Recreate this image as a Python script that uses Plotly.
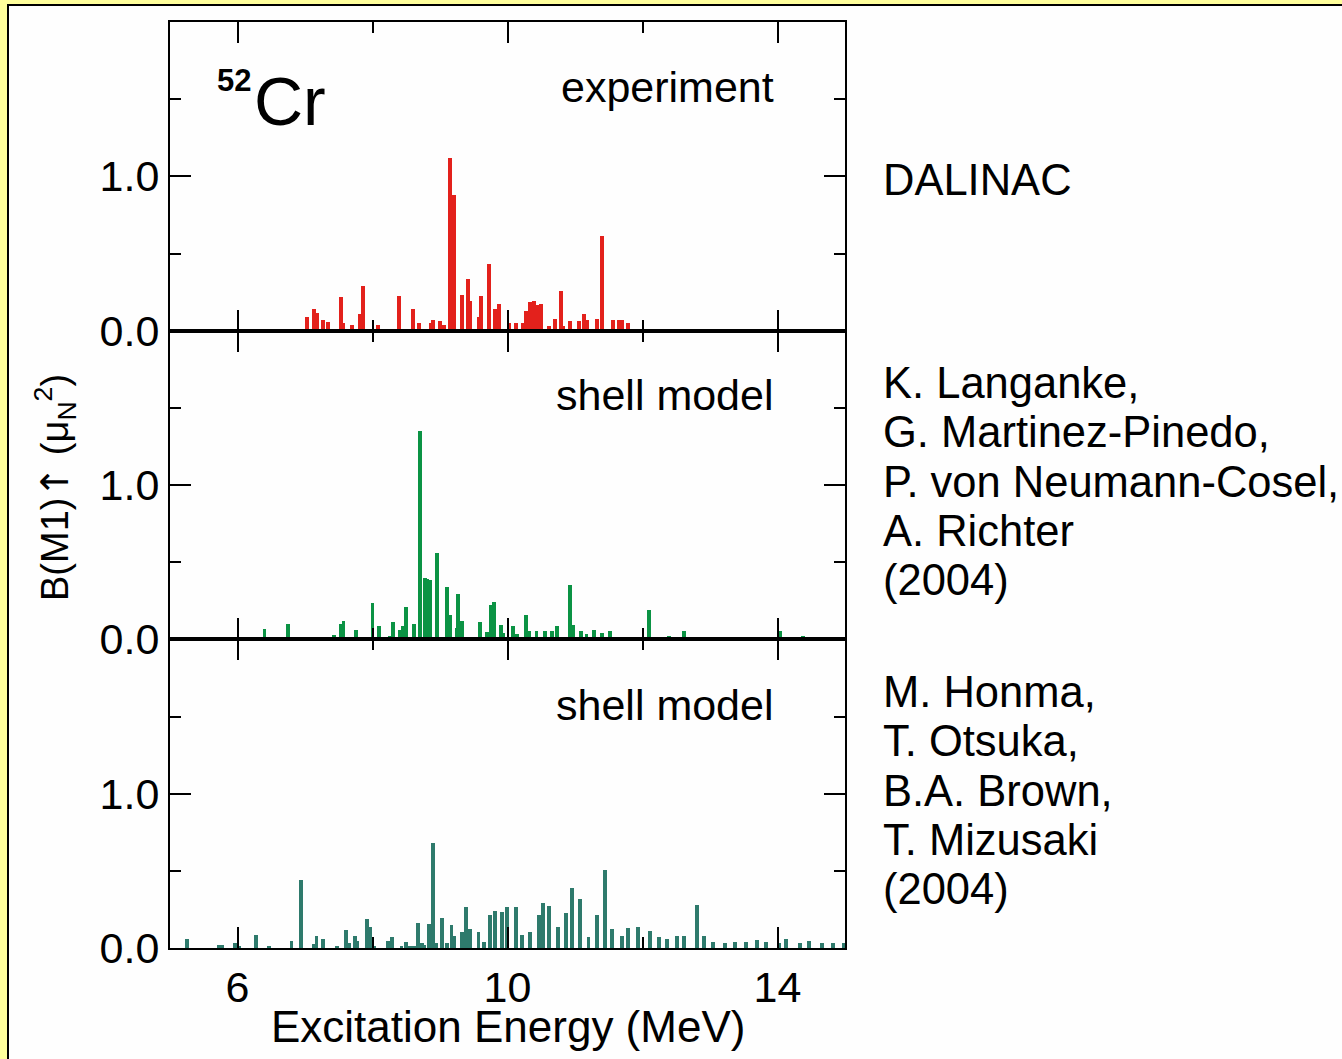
import plotly.graph_objects as go
from plotly.subplots import make_subplots

# ---- data (MeV, B(M1) in mu_N^2) ----
exp_E = [7.03, 7.14, 7.18, 7.26, 7.34, 7.53, 7.57, 7.70, 7.81, 7.86, 8.08, 8.39, 8.60, 8.69,
         8.86, 8.90, 9.00, 9.06, 9.15, 9.21, 9.32, 9.42, 9.45, 9.57, 9.61, 9.72, 9.82, 9.88,
         10.03, 10.13, 10.23, 10.27, 10.34, 10.39, 10.44, 10.50, 10.61, 10.71, 10.79, 10.83,
         10.92, 11.06, 11.13, 11.18, 11.33, 11.40, 11.56, 11.65, 11.70, 11.78]
exp_B = [0.089, 0.14, 0.115, 0.071, 0.054, 0.216, 0.05, 0.037, 0.108, 0.292, 0.039, 0.227, 0.138, 0.05,
         0.05, 0.071, 0.065, 0.035, 1.117, 0.877, 0.232, 0.335, 0.19, 0.089, 0.227, 0.433, 0.14, 0.175,
         0.05, 0.05, 0.05, 0.125, 0.184, 0.195, 0.165, 0.175, 0.032, 0.076, 0.255, 0.03,
         0.065, 0.06, 0.11, 0.071, 0.076, 0.612, 0.071, 0.068, 0.068, 0.05]

sm1_E = [5.35, 5.46, 6.40, 6.75, 7.17, 7.43, 7.53, 7.57, 7.65, 7.75, 7.91, 8.00, 8.10, 8.26, 8.30,
         8.40, 8.45, 8.50, 8.62, 8.70, 8.78, 8.81, 8.85, 8.91, 8.96, 9.11, 9.15, 9.18, 9.25, 9.27,
         9.33, 9.48, 9.53, 9.59, 9.69, 9.75, 9.80, 9.90, 9.94, 10.08, 10.14, 10.27, 10.32, 10.43,
         10.55, 10.66, 10.73, 10.84, 10.93, 10.97, 11.09, 11.17, 11.28, 11.40, 11.52, 11.61, 11.72,
         11.81, 11.88, 11.97, 12.09, 12.27, 12.39, 12.61, 12.65, 12.76, 13.08, 13.33, 13.50, 13.80,
         14.04, 14.38, 14.73, 14.94]
sm1_B = [0.01, 0.01, 0.071, 0.1, 0.017, 0.032, 0.1, 0.12, 0.01, 0.065, 0.02, 0.238, 0.087, 0.025, 0.113,
         0.065, 0.087, 0.21, 0.104, 1.353, 0.4, 0.394, 0.385, 0.02, 0.563, 0.342, 0.162, 0.02, 0.076, 0.299,
         0.119, 0.02, 0.01, 0.115, 0.05, 0.227, 0.242, 0.097, 0.043, 0.09, 0.037, 0.162, 0.054, 0.054,
         0.054, 0.054, 0.087, 0.01, 0.357, 0.097, 0.058, 0.035, 0.065, 0.04, 0.058, 0.02, 0.005,
         0.005, 0.017, 0.017, 0.195, 0.02, 0.026, 0.058, 0.02, 0.005, 0.01, 0.01, 0.005, 0.005,
         0.054, 0.026, 0.01, 0.017]

sm2_E = [5.25, 5.72, 5.77, 5.96, 6.02, 6.28, 6.47, 6.80, 6.94, 7.13, 7.17, 7.26, 7.48, 7.61, 7.65,
         7.74, 7.77, 7.92, 7.97, 8.03, 8.23, 8.29, 8.43, 8.49, 8.55, 8.62, 8.68, 8.74, 8.77, 8.84,
         8.90, 8.94, 9.03, 9.11, 9.17, 9.21, 9.33, 9.39, 9.44, 9.57, 9.65, 9.74, 9.81, 9.92, 9.99,
         10.12, 10.22, 10.33, 10.46, 10.53, 10.61, 10.75, 10.86, 10.96, 11.08, 11.20, 11.32, 11.44,
         11.55, 11.70, 11.79, 11.94, 12.11, 12.24, 12.36, 12.51, 12.62, 12.81, 12.91, 13.05, 13.22,
         13.37, 13.53, 13.69, 13.83, 14.02, 14.13, 14.33, 14.47, 14.66, 14.82, 14.98]
sm2_B = [0.056, 0.017, 0.017, 0.028, 0.01, 0.082, 0.008, 0.045, 0.437, 0.024, 0.073, 0.056, 0.008, 0.117, 0.03,
         0.078, 0.045, 0.188, 0.134, 0.01, 0.045, 0.067, 0.013, 0.037, 0.013, 0.005, 0.16, 0.03, 0.02, 0.156,
         0.675, 0.03, 0.193, 0.03, 0.145, 0.073, 0.102, 0.264, 0.121, 0.102, 0.037, 0.214, 0.24, 0.229, 0.264,
         0.264, 0.084, 0.1, 0.214, 0.29, 0.268, 0.134, 0.225, 0.388, 0.316, 0.067, 0.214, 0.506,
         0.123, 0.078, 0.128, 0.134, 0.106, 0.069, 0.058, 0.078, 0.078, 0.275, 0.078, 0.037, 0.028,
         0.037, 0.037, 0.048, 0.037, 0.03, 0.056, 0.028, 0.04, 0.03, 0.028, 0.028]

x_tickvals = [6, 10, 14]
x_ticktext = ["6", "10", "14"]
x_minor = [8, 12]
y_tickvals = [0, 1]
y_ticktext = ["0.0", "1.0"]
y_minor = [0.5, 1.5]

panel_labels = ["experiment", "shell model", "shell model"]
right_blocks = [
    ["DALINAC"],
    ["K. Langanke,", "G. Martinez-Pinedo,", "P. von Neumann-Cosel,", "A. Richter", "(2004)"],
    ["M. Honma,", "T. Otsuka,", "B.A. Brown,", "T. Mizusaki", "(2004)"],
]

colors = ["#e3211c", "#0b9344", "#2e7a6c"]
FONT = "Liberation Sans, Arial, Helvetica, sans-serif"

# figure geometry (pixels)
W, H = 1342, 1059
L, R, T, B = 170, 845, 22, 948


def px(x):
    return (x - L) / (R - L)


def py(y):
    return (B - y) / (B - T)


fig = make_subplots(rows=3, cols=1, shared_xaxes=True, vertical_spacing=0)

for i, (E, V) in enumerate([(exp_E, exp_B), (sm1_E, sm1_B), (sm2_E, sm2_B)]):
    fig.add_trace(go.Bar(x=E, y=V, width=0.058, marker=dict(color=colors[i], line=dict(width=0)),
                         showlegend=False, hoverinfo="x+y"), row=i + 1, col=1)

axis_common = dict(showline=True, linewidth=2, linecolor="black", mirror="ticks",
                   ticks="inside", ticklen=21, tickwidth=2, tickcolor="black",
                   showgrid=False, zeroline=False,
                   tickfont=dict(family=FONT, size=43, color="black"))

for r in range(1, 4):
    fig.update_xaxes(range=[5, 15], tickmode="array", tickvals=x_tickvals, ticktext=x_ticktext,
                     minor=dict(tickmode="array", tickvals=x_minor, ticks="inside", ticklen=11,
                                tickwidth=2, tickcolor="black", showgrid=False),
                     showticklabels=(r == 3), **axis_common, row=r, col=1)
    fig.update_yaxes(range=[0, 2], tickmode="array", tickvals=y_tickvals, ticktext=y_ticktext,
                     minor=dict(tickmode="array", tickvals=y_minor, ticks="inside", ticklen=11,
                                tickwidth=2, tickcolor="black", showgrid=False),
                     ticklabelstandoff=0, **axis_common, row=r, col=1)

annotations = []
# x axis title
annotations.append(dict(text="Excitation Energy (MeV)", x=px(508), y=py(1026), xref="paper", yref="paper",
                        xanchor="center", yanchor="middle", showarrow=False,
                        font=dict(family=FONT, size=44, color="black")))
# panel labels
for i, (txt, yc) in enumerate(zip(panel_labels, [87, 395, 705])):
    annotations.append(dict(text=txt, x=px(776), y=py(yc), xref="paper", yref="paper",
                            xanchor="right", yanchor="middle", showarrow=False,
                            font=dict(family=FONT, size=43, color="black")))
# right text blocks
block_starts = [180, 383, 692]
for blk, y0 in zip(right_blocks, block_starts):
    for j, line in enumerate(blk):
        annotations.append(dict(text=line, x=px(881), y=py(y0 + 49.3 * j), xref="paper", yref="paper",
                                xanchor="left", yanchor="middle", showarrow=False,
                                font=dict(family=FONT, size=43.5, color="black")))
# nucleus label
annotations.append(dict(text="Cr", x=px(252), y=py(101), xref="paper", yref="paper",
                        xanchor="left", yanchor="middle", showarrow=False,
                        font=dict(family=FONT, size=68, color="black")))
annotations.append(dict(text="<b>52</b>", x=px(215), y=py(80), xref="paper", yref="paper",
                        xanchor="left", yanchor="middle", showarrow=False,
                        font=dict(family=FONT, size=31, color="black")))
# y axis title
annotations.append(dict(text="B(M1)<span style='font-family:DejaVu Sans'>↑</span> (μ<sub>N</sub><sup>2</sup>)",
                        x=px(55), y=py(488),
                        xref="paper", yref="paper", xanchor="center", yanchor="middle",
                        textangle=-90, showarrow=False,
                        font=dict(family=FONT, size=38, color="black")))

fig.update_layout(
    width=W, height=H,
    margin=dict(l=L, r=W - R, t=T, b=H - B, pad=0),
    paper_bgcolor="#ffff9c",
    plot_bgcolor="rgba(0,0,0,0)",
    annotations=annotations,
    bargap=0,
    shapes=[dict(type="rect", xref="paper", yref="paper", x0=px(8), x1=px(1400), y0=py(1100), y1=py(5),
                 fillcolor="#fefefe", line=dict(color="black", width=2), layer="below")],
)

fig.write_html("out.html")
